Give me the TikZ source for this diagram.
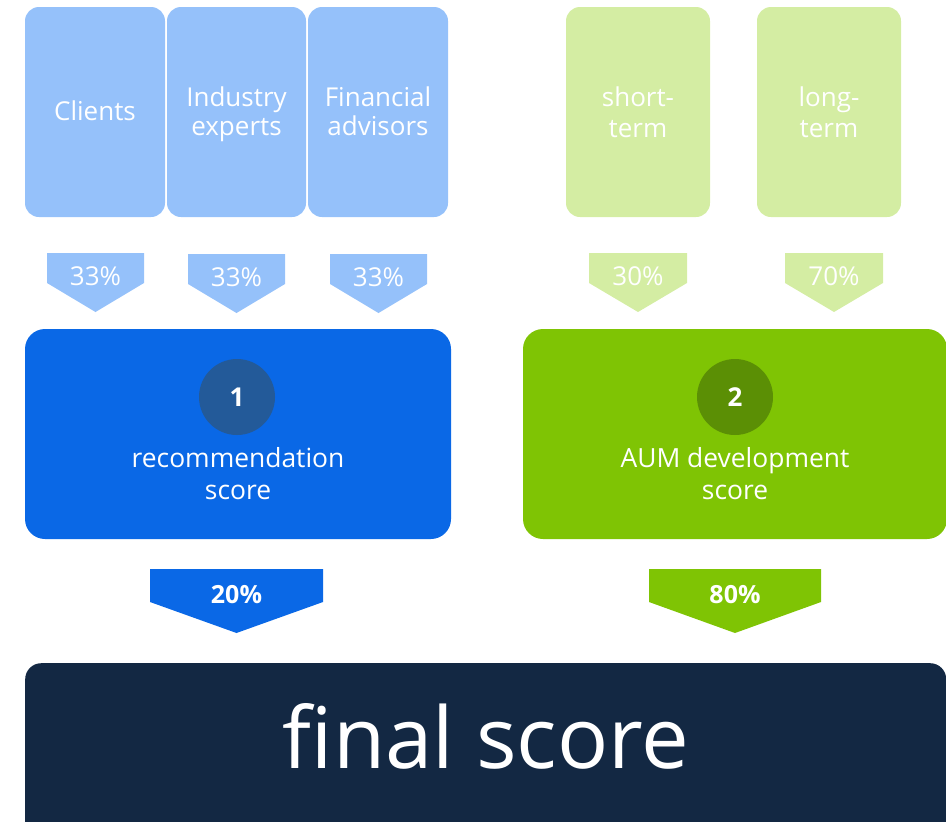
\documentclass[tikz,border=0pt]{standalone}
\usepackage{fontspec}
\setmainfont{Open Sans}
\definecolor{lblue}{HTML}{95C1FA}
\definecolor{lgreen}{HTML}{D4EDA3}
\definecolor{mblue}{HTML}{0A68E6}
\definecolor{dblue}{HTML}{235A99}
\definecolor{mgreen}{HTML}{7FC404}
\definecolor{dgreen}{HTML}{5B8F05}
\definecolor{navy}{HTML}{132843}
\newcommand\chevpath[6]{%
  \fill[#6] (#1,#3) -- (#2,#3) -- (#2,#4) -- ({(#1+#2)/2},#5) -- (#1,#4) -- cycle;}
\begin{document}
\begin{tikzpicture}[x=1pt,y=-1pt,
  srcbox/.style={rounded corners=14pt, minimum height=210pt, inner sep=0pt},
  bluesrc/.style={srcbox, fill=lblue, minimum width=140pt},
  greensrc/.style={srcbox, fill=lgreen, minimum width=144pt},
  srctext/.style={text=white, align=center, inner sep=0pt, font=\fontsize{26}{29}\selectfont},
  gsrctext/.style={srctext, font=\fontsize{26}{31}\selectfont},
  pct/.style={anchor=base, text=white, inner sep=0pt, font=\fontsize{26}{30}\selectfont},
  bpct/.style={anchor=base, text=white, inner sep=0pt, font=\bfseries\fontsize{25}{30}\selectfont},
  scorebox/.style={rounded corners=20pt, minimum height=210pt, inner sep=0pt},
  num/.style={circle, minimum size=76pt, inner sep=0pt, text=white, font=\bfseries\fontsize{26}{30}\selectfont},
  stext/.style={text=white, align=center, inner sep=0pt, font=\fontsize{26.4}{32}\selectfont}]
\clip (0,0) rectangle (946,822);
% source boxes
\node[bluesrc] (clients) at (95,112) {};
\node[bluesrc, minimum width=139pt] (industry) at (236.5,112) {};
\node[bluesrc] (advisors) at (378,112) {};
\node[greensrc] (short) at (638,112) {};
\node[greensrc] (long) at (829,112) {};
\node[srctext] (clientsT) at (95,111) {Clients};
\node[srctext] (industryT) at (236.5,114) {Industry\\experts};
\node[srctext] (advisorsT) at (378,111) {Financial\\advisors};
\node[gsrctext] (shortT) at (638,112) {short-\\term};
\node[gsrctext] (longT) at (829,112) {long-\\term};
% weight chevrons
\chevpath{47}{144}{253}{283}{312}{lblue}
\chevpath{188}{285}{254}{284}{313}{lblue}
\chevpath{330}{427}{254}{284}{313}{lblue}
\chevpath{589}{687}{253}{283}{312}{lgreen}
\chevpath{785}{883}{253}{283}{312}{lgreen}
\node[pct] (p1) at (95.5,285) {33\%};
\node[pct] (p2) at (236.5,286) {33\%};
\node[pct] (p3) at (378.5,286) {33\%};
\node[pct] (p4) at (638,285) {30\%};
\node[pct] (p5) at (834,285) {70\%};
% score boxes
\node[scorebox, fill=mblue, minimum width=426pt] (rec) at (238,434) {};
\node[scorebox, fill=mgreen, minimum width=424pt] (aum) at (735,434) {};
\node[num, fill=dblue] (n1) at (237,397) {1};
\node[num, fill=dgreen] (n2) at (735,397) {2};
\node[stext] (t1) at (238,474) {recommendation\\score};
\node[stext] (t2) at (735,474) {AUM development\\score};
% final weights
\chevpath{150}{323}{569}{602}{633}{mblue}
\chevpath{649}{821}{569}{602}{633}{mgreen}
\node[bpct] (w1) at (236.5,603) {20\%};
\node[bpct] (w2) at (735,603) {80\%};
% final score
\node[fill=navy, rounded corners=16pt, minimum width=921pt, minimum height=190pt,
  inner sep=0pt, anchor=north west] (final) at (25,663) {};
\node[anchor=base, text=white, inner sep=0pt, font=\fontsize{85}{96}\selectfont] (ftext) at (486,768) {final score};
\end{tikzpicture}
\end{document}
